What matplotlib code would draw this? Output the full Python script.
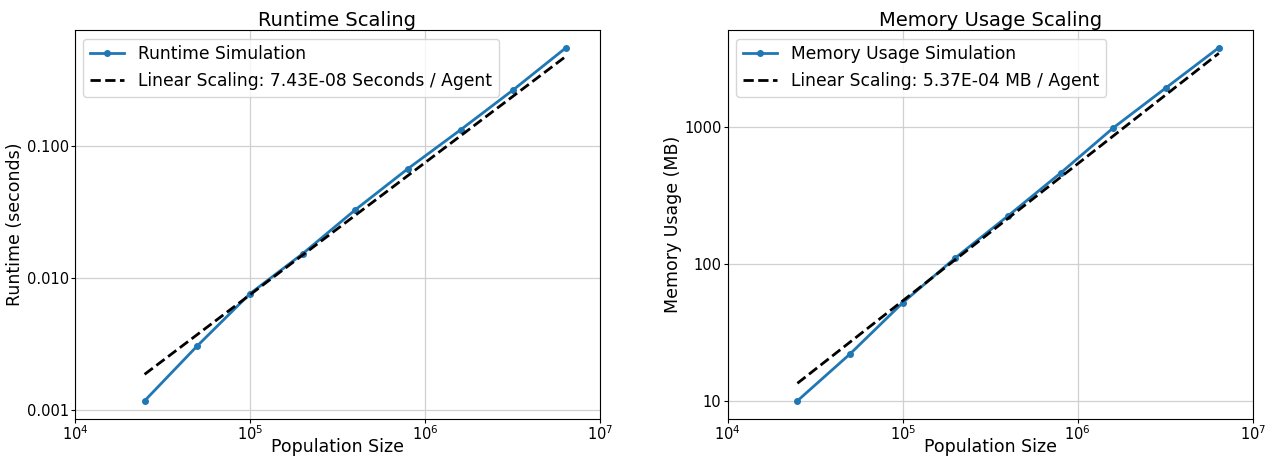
import matplotlib
matplotlib.use("Agg")
import matplotlib.pyplot as plt
from matplotlib.ticker import FixedLocator, FixedFormatter, NullLocator

plt.rcParams["mathtext.fontset"] = "dejavusans"

# population sizes simulated
population = [25000, 50000, 100000, 200000, 400000, 800000, 1600000, 3200000, 6400000]

# measured runtime (seconds) and memory (MB)
runtime = [0.00117, 0.00305, 0.00757, 0.0152, 0.0327, 0.067, 0.132, 0.265, 0.552]
memory = [10.0, 22.0, 52.0, 110.6, 224, 461, 984, 1928, 3776]

runtime_slope = 7.43e-08
memory_slope = 5.37e-04

runtime_ticks = [0.001, 0.01, 0.1]
runtime_ticklabels = ["0.001", "0.010", "0.100"]
memory_ticks = [10, 100, 1000]
memory_ticklabels = ["10", "100", "1000"]


fig = plt.figure(figsize=(12.79, 4.65), dpi=100)
ax1 = fig.add_axes([0.0586, 0.1, 0.4105, 0.8355])
ax2 = fig.add_axes([0.569, 0.1, 0.4105, 0.8355])


def scaling_panel(ax, y, slope, sim_label, lin_label, ylabel, title, ticks, ticklabels, ylab_x):
    ax.plot(population, y, "-o", color="#1f77b4", lw=2, markersize=4, label=sim_label)
    ax.plot(population, [slope * p for p in population], "k--", lw=2, label=lin_label)
    ax.set_xscale("log")
    ax.set_yscale("log")
    ax.set_xlim(1e4, 1e7)
    ax.yaxis.set_major_locator(FixedLocator(ticks))
    ax.yaxis.set_major_formatter(FixedFormatter(ticklabels))
    ax.xaxis.set_minor_locator(NullLocator())
    ax.yaxis.set_minor_locator(NullLocator())
    ax.grid(True, color="#d0d0d0", lw=0.9)
    ax.tick_params(labelsize=10.5, length=3, pad=1.5)
    ax.set_xlabel("Population Size", fontsize=12.5)
    ax.set_ylabel(ylabel, fontsize=12.5)
    ax.xaxis.set_label_coords(0.5, -0.05)
    ax.yaxis.set_label_coords(ylab_x, 0.5)
    ax.set_title(title, fontsize=14, pad=1)
    ax.legend(loc="upper left", fontsize=12.3)


scaling_panel(ax1, runtime, runtime_slope, "Runtime Simulation",
              f"Linear Scaling: {runtime_slope:.2E} Seconds / Agent",
              "Runtime (seconds)", "Runtime Scaling", runtime_ticks, runtime_ticklabels, -0.097)
scaling_panel(ax2, memory, memory_slope, "Memory Usage Simulation",
              f"Linear Scaling: {memory_slope:.2E} MB / Agent",
              "Memory Usage (MB)", "Memory Usage Scaling", memory_ticks, memory_ticklabels, -0.0876)

fig.savefig("out.png", dpi=100)
